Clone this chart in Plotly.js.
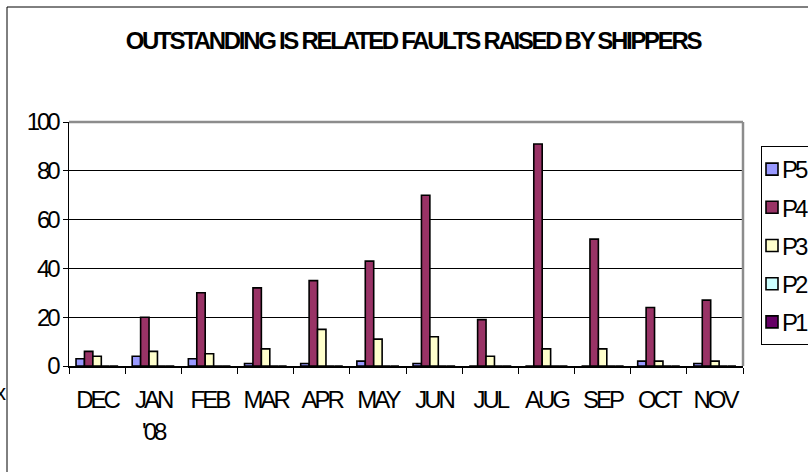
<!DOCTYPE html>
<html>
<head>
<meta charset="utf-8">
<script src="https://cdn.plot.ly/plotly-3.0.1.min.js"></script>
<style>
  html, body { margin: 0; padding: 0; background: #fff; }
  #chart { width: 808px; height: 472px; }
  .gtitle { letter-spacing: -2.3px; }
  .xtick text, .ytick text { letter-spacing: -3px; }
  .legendtext { letter-spacing: -3px; transform: translateX(-10px); }
</style>
</head>
<body>
<div id="chart"></div>
<script>
// ---- data ----
const months = ["DEC", "JAN<br>'08", "FEB", "MAR", "APR", "MAY", "JUN", "JUL", "AUG", "SEP", "OCT", "NOV"];
const seriesNames = ["P5", "P4", "P3", "P2", "P1"];
const P5 = [3, 4, 3, 1, 1, 2, 1, 0, 0, 0, 2, 1];
const P4 = [6, 20, 30, 32, 35, 43, 70, 19, 91, 52, 24, 27];
const P3 = [4, 6, 5, 7, 15, 11, 12, 4, 7, 7, 2, 2];
const P2 = [0, 0, 0, 0, 0, 0, 0, 0, 0, 0, 0, 0];
const P1 = [0, 0, 0, 0, 0, 0, 0, 0, 0, 0, 0, 0];
const seriesValues = [P5, P4, P3, P2, P1];
const seriesColors = ["#9999FF", "#993366", "#FFFFCC", "#CCFFFF", "#660066"];
const yTicks = [0, 20, 40, 60, 80, 100];

const FONT = "Liberation Sans, Arial, sans-serif";

const traces = seriesNames.map((name, i) => ({
  type: "bar",
  name: name,
  x: months,
  y: seriesValues[i],
  legendgroup: name,
  marker: { color: seriesColors[i], line: { color: "#000", width: 1.6 } },
  hoverinfo: "x+y+name"
}));

// plot area in pixels: left 69, right 743, top 122, bottom 366
const L = 69, R = 743, T = 122, B = 366, W = 808, H = 472;
const px = v => (v - L) / (R - L);
const py = v => (B - v) / (B - T);

const layout = {
  width: W, height: H,
  margin: { l: L, r: W - R, t: T, b: H - B, autoexpand: false },
  paper_bgcolor: "#fff",
  plot_bgcolor: "#fff",
  font: { family: FONT, size: 24, color: "#000" },
  title: {
    text: "OUTSTANDING IS RELATED FAULTS RAISED BY SHIPPERS",
    font: { family: FONT, size: 24, weight: "bold", color: "#000" },
    x: 413 / W, xanchor: "center", xref: "container",
    y: 1 - 41 / H, yanchor: "middle", yref: "container"
  },
  barmode: "group",
  bargap: 0.25,
  bargroupgap: 0,
  xaxis: {
    type: "category",
    showline: true, linecolor: "#000", linewidth: 1.5,
    ticks: "outside", tickson: "boundaries", ticklen: 6, tickcolor: "#000", tickwidth: 1,
    showgrid: false, zeroline: false,
    tickangle: 0,
    tickfont: { family: FONT, size: 24, color: "#000" },
    ticklabelstandoff: 12,
    fixedrange: true
  },
  yaxis: {
    range: [0, 100],
    tickvals: yTicks,
    ticktext: yTicks.map(String),
    showline: true, linecolor: "#000", linewidth: 1.5,
    ticks: "outside", ticklen: 5, tickcolor: "#000", tickwidth: 1,
    showgrid: true, gridcolor: "#000", gridwidth: 1,
    zeroline: false,
    tickfont: { family: FONT, size: 24, color: "#000" },
    fixedrange: true
  },
  legend: {
    x: px(761), xanchor: "left",
    y: py(146), yanchor: "top",
    bgcolor: "#fff", bordercolor: "#000", borderwidth: 1,
    font: { family: FONT, size: 24, color: "#000" },
    traceorder: "grouped",
    tracegroupgap: 4,
    indentation: -10
  },
  shapes: [
    // outer chart frame
    { type: "rect", xref: "paper", yref: "paper",
      x0: px(7), x1: px(900), y0: py(600), y1: py(7),
      line: { color: "#000", width: 1 }, fillcolor: "rgba(0,0,0,0)", layer: "below" },
    // plot area gray border (top & right)
    { type: "line", xref: "paper", yref: "paper", x0: 0, x1: 1, y0: 1, y1: 1,
      line: { color: "#8c8c8c", width: 2.5 } },
    { type: "line", xref: "paper", yref: "paper", x0: 1, x1: 1, y0: 0, y1: 1,
      line: { color: "#8c8c8c", width: 2.5 } }
  ],
  annotations: [
    { text: "x", xref: "paper", yref: "paper", x: px(8), y: py(392),
      xanchor: "right", yanchor: "middle", showarrow: false,
      font: { family: FONT, size: 22, color: "#000" } }
  ]
};

Plotly.newPlot("chart", traces, layout, { staticPlot: true, displayModeBar: false });
</script>
</body>
</html>
